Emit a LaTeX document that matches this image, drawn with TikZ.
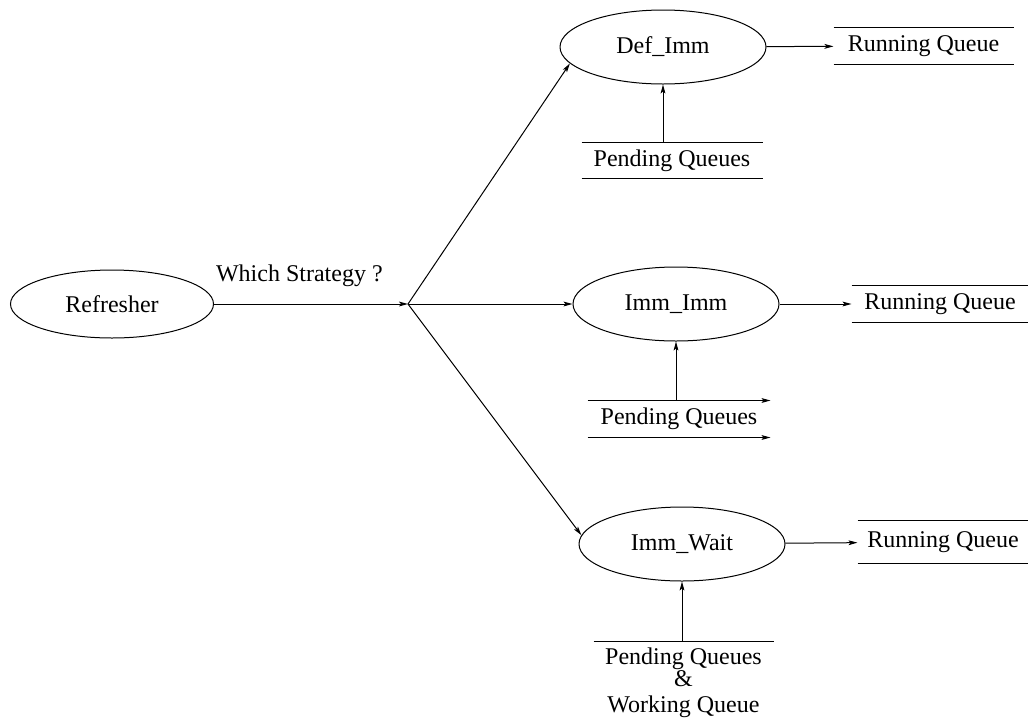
\documentclass[tikz,border=0pt]{standalone}
\usepackage{fontspec}
\setmainfont{Liberation Serif}
\usetikzlibrary{shapes.geometric,arrows.meta}

\tikzset{
  strategy/.style={draw, ellipse, minimum width=103pt, minimum height=37pt, inner sep=0pt},
  queue/.style={inner sep=0pt, minimum height=18pt},
  >={Stealth[length=4.5pt,width=2.4pt,inset=1pt]},
}

\begin{document}
\begin{tikzpicture}[x=0.5pt,y=-0.5pt,line width=0.5pt,font=\fontsize{12}{14}\selectfont]

   \useasboundingbox (0,0) rectangle (1028,724);

   \node (Refresher) at (112,304) [strategy, minimum width=101.5pt, minimum height=34pt] {Refresher};
   \coordinate (branch) at (408,304);

   \node (DefImm) at (663,47) [strategy] {Def\_Imm};
   \node (ImmImm) at (676,304) [strategy] {Imm\_Imm};
   \node (ImmWait) at (682,544) [strategy] {Imm\_Wait};

   \node (RunDef) at (923.5,46) [queue, minimum width=89.5pt] {Running Queue};
   \node (RunImm) at (940,304) [queue, minimum width=88pt] {Running Queue};
   \node (RunWait) at (943,542) [queue, minimum width=85pt, minimum height=21pt] {Running Queue};

   \node (PendDef) at (672,160.5) [queue, minimum width=90pt, minimum height=17.5pt] {Pending Queues};
   \node (PendImm) at (679,419) [queue, minimum width=91pt] {Pending Queues};
   \node (PendWait) at (683.5,641) [anchor=north, align=center, inner xsep=0pt, inner ysep=3pt, minimum width=89.5pt] {Pending Queues\\[-3pt]\&\\[-1pt]Working Queue};

   \foreach \q in {RunDef,RunImm,RunWait,PendDef} {
      \draw [] (\q.north west) -- (\q.north east);
      \draw [] (\q.south west) -- (\q.south east);
   }
   \draw [->] (PendImm.north west) -- (PendImm.north east);
   \draw [->] (PendImm.south west) -- (PendImm.south east);
   \draw [] (PendWait.north west) -- (PendWait.north east);

   \draw [->] (Refresher) -- node [above=5pt, pos=0.44] {Which Strategy ?} (branch);

   \draw [->] (branch) -- (DefImm.190);
   \draw [->] (branch) -- (ImmImm);
   \draw [->] (branch) -- (ImmWait.175);

   \draw [->] (DefImm) -- (RunDef);
   \draw [->] (ImmImm) -- (RunImm);
   \draw [->] (ImmWait) -- (RunWait);

   \draw [->] (DefImm.south |- PendDef.north) -- (DefImm.south);
   \draw [->] (ImmImm.south |- PendImm.north) -- (ImmImm.south);
   \draw [->] (ImmWait.south |- PendWait.north) -- (ImmWait.south);

\end{tikzpicture}
\end{document}
